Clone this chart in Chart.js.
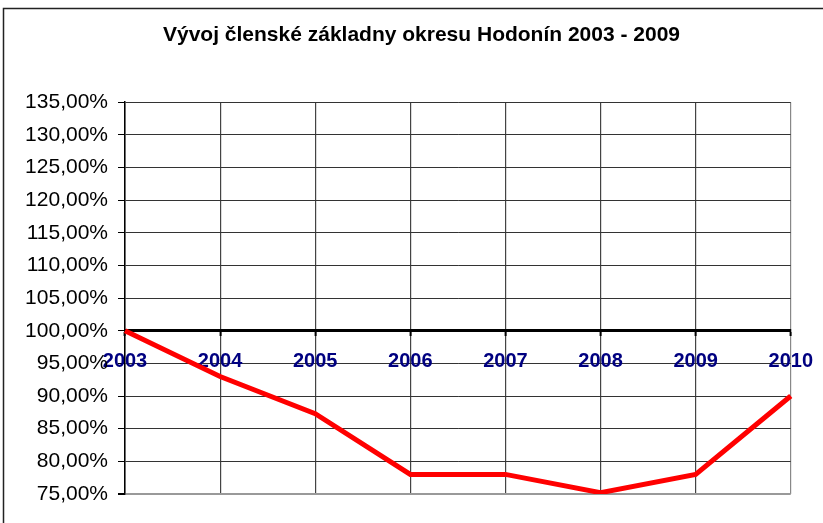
<!DOCTYPE html>
<html>
<head>
<meta charset="utf-8">
<script src="https://cdn.jsdelivr.net/npm/chart.js@4/dist/chart.umd.min.js"></script>
<style>
  body { margin: 0; background: #fff; }
  canvas { display: block; }
</style>
</head>
<body>
<canvas id="myChart" width="823" height="523"></canvas>
<script>
var years = ["2003", "2004", "2005", "2006", "2007", "2008", "2009", "2010"];
var members = [100, 93, 87.3, 78, 78, 75.2, 78, 90];
var yMin = 75;
var yMax = 135;
var yStep = 5;
var title = "Vývoj členské základny okresu Hodonín 2003 - 2009";

// outer chart frame like in the spreadsheet
var framePlugin = {
  id: "frame",
  beforeDraw: function (chart) {
    var ctx = chart.ctx;
    ctx.save();
    ctx.fillStyle = "#fff";
    ctx.fillRect(0, 0, chart.width, chart.height);
    ctx.strokeStyle = "#222";
    ctx.lineWidth = 1.5;
    ctx.strokeRect(3.5, 8.5, chart.width + 10, chart.height + 10);
    ctx.restore();
  }
};

var ctx = document.getElementById("myChart").getContext("2d");
var chart = new Chart(ctx, {
  type: "line",
  data: {
    labels: years,
    datasets: [
      {
        data: members,
        borderColor: "#ff0000",
        backgroundColor: "#ff0000",
        borderWidth: 5,
        pointRadius: 0,
        tension: 0,
        fill: false
      }
    ]
  },
  options: {
    responsive: false,
    animation: false,
    layout: {
      padding: { left: 20, right: 0, top: 0, bottom: 29 }
    },
    plugins: {
      legend: { display: false },
      tooltip: { enabled: false },
      title: {
        display: true,
        text: title,
        color: "#000",
        font: { family: "Liberation Sans, Arial, sans-serif", size: 21, weight: "bold" },
        padding: { top: 23, bottom: 54 }
      }
    },
    scales: {
      x: {
        position: { y: 100 },
        offset: false,
        grid: {
          color: function (c) {
            return c.index === years.length - 1 ? "#888" : "#444";
          },
          lineWidth: 1.2,
          tickLength: 9,
          tickColor: "#000",
          tickWidth: 2,
          tickBorderDash: [4, 30]
        },
        border: { color: "#000", width: 3 },
        ticks: {
          color: "#000080",
          padding: 10,
          maxRotation: 0,
          autoSkip: false,
          font: { family: "Liberation Sans, Arial, sans-serif", size: 20, weight: "bold" }
        }
      },
      y: {
        min: yMin,
        max: yMax,
        afterFit: function (scale) {
          scale.width = 105;
        },
        grid: {
          color: function (c) {
            return c.tick && c.tick.value === yMin ? "#999" : "#333";
          },
          lineWidth: function (c) {
            return c.tick && c.tick.value === yMin ? 2 : 1;
          },
          tickLength: 7,
          tickColor: "#000"
        },
        border: { color: "#000", width: 1.5 },
        ticks: {
          stepSize: yStep,
          color: "#000",
          padding: 10,
          font: { family: "Liberation Sans, Arial, sans-serif", size: 21 },
          callback: function (v) {
            return v.toFixed(2).replace(".", ",") + "%";
          }
        }
      },
      // empty right axis, only keeps the white margin right of the plot
      yRight: {
        type: "linear",
        position: "right",
        afterFit: function (scale) {
          scale.width = 32;
        },
        grid: { display: false },
        border: { display: false },
        ticks: { display: false }
      }
    }
  },
  plugins: [framePlugin]
});
</script>
</body>
</html>
